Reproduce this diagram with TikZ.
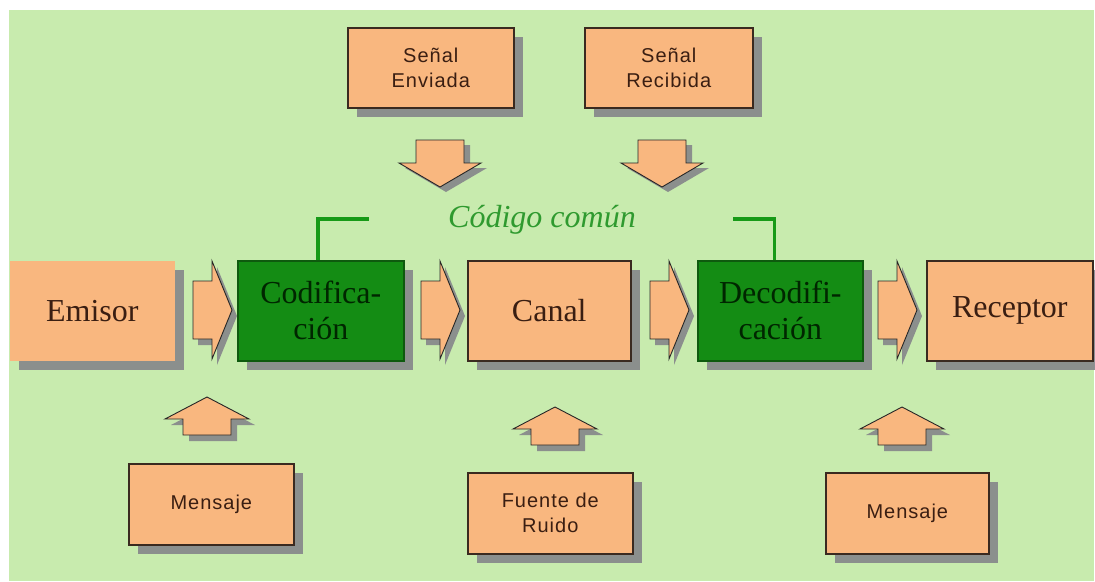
\documentclass[tikz,border=0pt]{standalone}
\usepackage{fontspec}
\setmainfont{Liberation Serif}
\newfontfamily\lsans[LetterSpace=5]{Liberation Sans}
\usetikzlibrary{shadows}
\definecolor{bggreen}{HTML}{C8EBAE}
\definecolor{orangefill}{HTML}{F9B77F}
\definecolor{boxline}{HTML}{3A2A20}
\definecolor{textbrown}{HTML}{3A1E12}
\definecolor{darkgreen}{HTML}{148C14}
\definecolor{greenline}{HTML}{0E5A0E}
\definecolor{lineg}{HTML}{179A17}
\definecolor{codetext}{HTML}{2F9A2F}
\definecolor{shadowgray}{HTML}{85858A}
\tikzset{
  shadowed/.style={drop shadow={shadow xshift=9pt, shadow yshift=-9pt, fill=shadowgray, opacity=0.9}},
  bigbox/.style={shadowed, draw=boxline, line width=1.6pt, fill=orangefill, anchor=north west,
    minimum height=100pt, inner sep=0pt, align=center, text=textbrown,
    font=\fontsize{32}{36}\selectfont},
  greenbox/.style={bigbox, fill=darkgreen, draw=greenline, text=black!85!green},
  smallbox/.style={shadowed, draw=boxline, line width=1.6pt, fill=orangefill, anchor=north west,
    minimum height=80pt, inner sep=0pt, align=center, text=textbrown,
    font=\lsans\fontsize{20}{25}\selectfont},
  blockarrow/.style={fill=orangefill, draw=black!85, line width=0.9pt, line join=miter},
  arrowshadow/.style={fill=shadowgray, opacity=0.9},
  gline/.style={draw=lineg, line width=3.5pt},
  rarrow/.pic={
    \fill[arrowshadow, shift={(5,6)}] (0,-29) -- (19,-29) -- (19,-49) -- (39,0) -- (19,49) -- (19,29) -- (0,29) -- cycle;
    \draw[blockarrow] (0,-29) -- (19,-29) -- (19,-49) -- (39,0) -- (19,49) -- (19,29) -- (0,29) -- cycle;
  },
  uarrow/.pic={
    \fill[arrowshadow, shift={(6,6)}] (0,0) -- (42,22) -- (24,22) -- (24,38) -- (-24,38) -- (-24,22) -- (-42,22) -- cycle;
    \draw[blockarrow] (0,0) -- (42,22) -- (24,22) -- (24,38) -- (-24,38) -- (-24,22) -- (-42,22) -- cycle;
  },
  darrow/.pic={
    \fill[arrowshadow, shift={(6,5)}] (0,0) -- (-41,-24) -- (-24,-24) -- (-24,-47) -- (24,-47) -- (24,-24) -- (41,-24) -- cycle;
    \draw[blockarrow] (0,0) -- (-41,-24) -- (-24,-24) -- (-24,-47) -- (24,-47) -- (24,-24) -- (41,-24) -- cycle;
  }
}
\begin{document}
\begin{tikzpicture}[x=1pt,y=-1pt]
\useasboundingbox (0,0) rectangle (1095,581);
\fill[white] (0,0) rectangle (1095,581);
\fill[bggreen] (9,10) rectangle (1094,581);

% top boxes
\node[smallbox, minimum width=166pt] (env) at (347,27) {Señal\\Enviada};
\node[smallbox, minimum width=168pt] (rec) at (584,27) {Señal\\Recibida};

% main row
\node[bigbox, draw=none, minimum width=165pt] (emi) at (9,260) {Emisor};
\node[greenbox, minimum width=166pt] (cod) at (237,260) {Codifica-\\ción};
\node[bigbox, minimum width=163pt] (can) at (467,260) {Canal};
\node[greenbox, minimum width=165pt] (dec) at (697,260) {Decodifi-\\cación};
\node[bigbox, minimum width=166pt] (rcp) at (926,260) {Receptor};

% bottom boxes
\node[smallbox, minimum width=165pt, minimum height=81pt] (men1) at (128,463) {Mensaje};
\node[smallbox, minimum width=165pt, minimum height=81pt] (fue) at (467,472) {Fuente de\\Ruido};
\node[smallbox, minimum width=163pt, minimum height=81pt] (men2) at (825,472) {Mensaje};

% block arrows
\pic at (193,310) {rarrow};
\pic at (421,310) {rarrow};
\pic at (650,310) {rarrow};
\pic at (878,310) {rarrow};
\pic at (440,187) {darrow};
\pic at (662,187) {darrow};
\pic at (207,397) {uarrow};
\pic at (555,407) {uarrow};
\pic at (902,407) {uarrow};

% common code
\node[anchor=base, text=codetext, inner sep=0pt, font=\itshape\fontsize{32}{36}\selectfont] (cc) at (542,227) {Código común};
\coordinate (c1) at (369,219);
\coordinate (c2) at (733,219);
\draw[gline] ([xshift=-3pt]cod.north) |- (c1);
\draw[gline] ([xshift=-6pt]dec.north) |- (c2);
\end{tikzpicture}
\end{document}
